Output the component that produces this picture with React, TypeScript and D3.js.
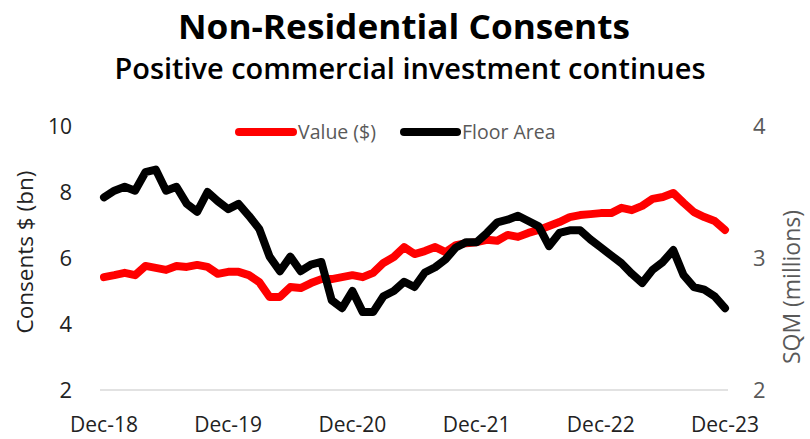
import React from "react";
import * as d3 from "d3";

const xTickLabels = ["Dec-18", "Dec-19", "Dec-20", "Dec-21", "Dec-22", "Dec-23"];
const leftTicks = [2, 4, 6, 8, 10];
const rightTicks = [2, 3, 4];

// Monthly, Dec-18 .. Dec-23
const valueBn = [
  5.42, 5.48, 5.55, 5.48, 5.76, 5.7, 5.64, 5.76, 5.73, 5.79, 5.73, 5.52,
  5.58, 5.58, 5.48, 5.27, 4.82, 4.82, 5.12, 5.09, 5.24, 5.36, 5.36, 5.42,
  5.48, 5.42, 5.55, 5.85, 6.03, 6.33, 6.12, 6.21, 6.33, 6.18, 6.39, 6.45,
  6.48, 6.55, 6.52, 6.7, 6.64, 6.76, 6.85, 6.97, 7.09, 7.24, 7.3, 7.33,
  7.36, 7.36, 7.52, 7.45, 7.58, 7.79, 7.85, 7.97, 7.67, 7.39, 7.24, 7.12,
  6.85,
];
const floorAreaM = [
  3.46, 3.51, 3.54, 3.51, 3.65, 3.67, 3.51, 3.54, 3.41, 3.35, 3.5, 3.43,
  3.37, 3.41, 3.32, 3.22, 3.01, 2.9, 3.01, 2.9, 2.95, 2.97, 2.68, 2.62,
  2.75, 2.59, 2.59, 2.71, 2.75, 2.82, 2.78, 2.89, 2.93, 2.99, 3.08, 3.12,
  3.12, 3.19, 3.27, 3.29, 3.32, 3.28, 3.24, 3.09, 3.19, 3.21, 3.21, 3.14,
  3.08, 3.02, 2.96, 2.88, 2.81, 2.91, 2.97, 3.06, 2.87, 2.78, 2.76, 2.71,
  2.62,
];

const W = 810;
const H = 439;
const FONT = "'Open Sans', 'Noto Sans', sans-serif";

export default function App() {
  const x = d3.scaleLinear().domain([0, valueBn.length - 1]).range([104, 725]);
  const yL = d3.scaleLinear().domain([2, 10]).range([390, 126]);
  const yR = d3.scaleLinear().domain([2, 4]).range([390, 126]);

  const lineL = d3
    .line<number>()
    .x((_, i) => x(i))
    .y((d) => yL(d));
  const lineR = d3
    .line<number>()
    .x((_, i) => x(i))
    .y((d) => yR(d));

  return (
    <svg
      width={W}
      height={H}
      style={{ position: "absolute", left: 0, top: 0, background: "#fff" }}
      fontFamily={FONT}
    >
      <rect width={W} height={H} fill="#fff" />
      <text x={404} y={39} textAnchor="middle" fontSize={34} fontWeight="bold" fill="#000" textLength={452} lengthAdjust="spacingAndGlyphs">
        Non-Residential Consents
      </text>
      <text x={410} y={79} textAnchor="middle" fontSize={28} fontWeight={600} fill="#000" textLength={591} lengthAdjust="spacingAndGlyphs">
        Positive commercial investment continues
      </text>

      {/* baseline gridline */}
      <line x1={100} x2={728} y1={yL(2)} y2={yL(2)} stroke="#d9d9d9" strokeWidth={1.5} />

      {/* left axis */}
      {leftTicks.map((t) => (
        <text key={t} x={72} y={yL(t)} dy="0.36em" textAnchor="end" fontSize={22} fill="#222" textLength={t >= 10 ? 24 : undefined} lengthAdjust="spacingAndGlyphs">
          {t}
        </text>
      ))}
      <text
        transform={`translate(33, ${yL(6) - 6}) rotate(-90)`}
        textAnchor="middle"
        fontSize={22.5}
        fill="#222"
      >
        Consents $ (bn)
      </text>

      {/* right axis */}
      {rightTicks.map((t) => (
        <text key={t} x={753} y={yR(t)} dy="0.36em" textAnchor="start" fontSize={22} fill="#595959">
          {t}
        </text>
      ))}
      <text
        transform={`translate(800, ${yR(2.78)}) rotate(-90)`}
        textAnchor="middle"
        fontSize={23}
        fill="#595959"
      >
        SQM (millions)
      </text>

      {/* x axis labels */}
      {xTickLabels.map((l, i) => (
        <text key={l} x={x(i * 12)} y={432} textAnchor="middle" fontSize={21} fill="#222">
          {l}
        </text>
      ))}

      {/* lines */}
      <path d={lineL(valueBn) || ""} fill="none" stroke="#ff0000" strokeWidth={8} strokeLinejoin="round" strokeLinecap="round" />
      <path d={lineR(floorAreaM) || ""} fill="none" stroke="#000" strokeWidth={8} strokeLinejoin="round" strokeLinecap="round" />

      {/* legend */}
      <line x1={239} x2={293} y1={132} y2={132} stroke="#ff0000" strokeWidth={8} strokeLinecap="round" />
      <text x={298} y={132} dy="0.35em" fontSize={19.5} fill="#595959">
        Value ($)
      </text>
      <line x1={404} x2={457} y1={132} y2={132} stroke="#000" strokeWidth={8} strokeLinecap="round" />
      <text x={462} y={132} dy="0.35em" fontSize={19.5} fill="#595959">
        Floor Area
      </text>
    </svg>
  );
}
